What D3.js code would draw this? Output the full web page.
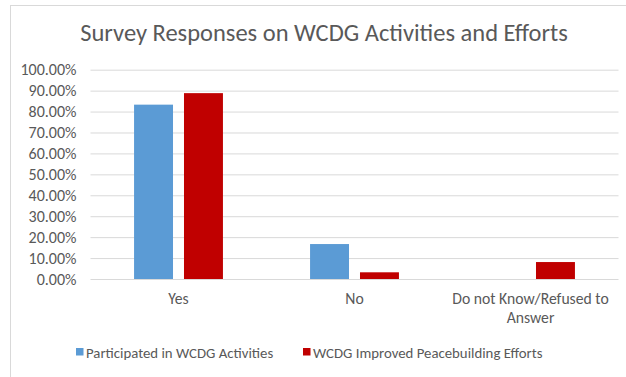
<!DOCTYPE html>
<html><head><meta charset="utf-8">
<script src="https://cdn.jsdelivr.net/npm/d3@7"></script>
<style>body{margin:0;background:#fff}svg{display:block}</style>
</head><body>
<script>
const categories = ["Yes", "No", "Do not Know/Refused to Answer"];
const seriesNames = ["Participated in WCDG Activities", "WCDG Improved Peacebuilding Efforts"];
const participated = [0.833, 0.167, 0];
const improved = [0.888, 0.032, 0.081];
const yTicks = [0,0.1,0.2,0.3,0.4,0.5,0.6,0.7,0.8,0.9,1.0];
const colors = ["#5B9BD5", "#C00000"];

const W = 626, H = 377;
const font = "Carlito, Calibri, 'Open Sans', sans-serif";
const svg = d3.select("body").append("svg").attr("width", W).attr("height", H);
svg.append("rect").attr("width", W).attr("height", H).attr("fill", "#fff");
svg.append("rect").attr("x", 10.5).attr("y", 5.5).attr("width", W + 20).attr("height", H + 20)
  .attr("fill", "none").attr("stroke", "#D9D9D9");

const plot = {l: 90.5, r: 618.5, t: 69.7, b: 279};
const x0 = d3.scaleBand().domain(categories).range([plot.l, plot.r]).paddingInner(0.495).paddingOuter(0.2475);
const x1 = d3.scaleBand().domain(seriesNames).range([0, x0.bandwidth()]).paddingInner(0.22);
const y = d3.scaleLinear().domain([0, 1]).range([plot.b, plot.t]);

svg.append("text").attr("x", 324).attr("y", 41).attr("text-anchor", "middle")
  .attr("font-family", font).attr("font-size", 24.5).attr("fill", "#595959")
  .text("Survey Responses on WCDG Activities and Efforts");

const yAxis = d3.axisLeft(y).tickValues(yTicks).tickFormat(d => (d*100).toFixed(2) + "%").tickSize(-(plot.r - plot.l)).tickPadding(14);
const ga = svg.append("g").attr("transform", `translate(${plot.l},0)`).call(yAxis);
ga.select(".domain").remove();
ga.selectAll(".tick line").attr("stroke", "#D9D9D9").attr("stroke-width", 1);
ga.selectAll(".tick text").attr("fill", "#595959").attr("font-family", font).attr("font-size", 16);

const data = categories.map((c, i) => ({c, vals: [participated[i], improved[i]]}));
const groups = svg.append("g").selectAll("g").data(data).join("g")
  .attr("transform", d => `translate(${x0(d.c)},0)`);
groups.selectAll("rect").data(d => d.vals.map((v, j) => ({v, s: seriesNames[j], j})))
  .join("rect")
  .attr("x", d => x1(d.s)).attr("width", x1.bandwidth())
  .attr("y", d => y(d.v)).attr("height", d => y(0) - y(d.v))
  .attr("fill", d => colors[d.j]);

// category labels
const xl = svg.append("g");
const wrapLines = {"Do not Know/Refused to Answer": ["Do not Know/Refused to", "Answer"]};
categories.forEach(c => {
  const lines = wrapLines[c] || [c];
  const cx = x0(c) + x0.bandwidth() / 2;
  lines.forEach((ln, k) => {
    xl.append("text").attr("x", cx).attr("y", 304 + k * 19).attr("text-anchor", "middle")
      .attr("font-family", font).attr("font-size", 15.7).attr("fill", "#595959").text(ln);
  });
});

// legend
const legX = [76, 303];
seriesNames.forEach((s, j) => {
  svg.append("rect").attr("x", legX[j]).attr("y", 348).attr("width", 7.5).attr("height", 7.5).attr("fill", colors[j]);
  svg.append("text").attr("x", legX[j] + 10).attr("y", 357.5).attr("font-family", font).attr("font-size", 14.8)
    .attr("fill", "#595959").text(s);
});
</script>
</body></html>
